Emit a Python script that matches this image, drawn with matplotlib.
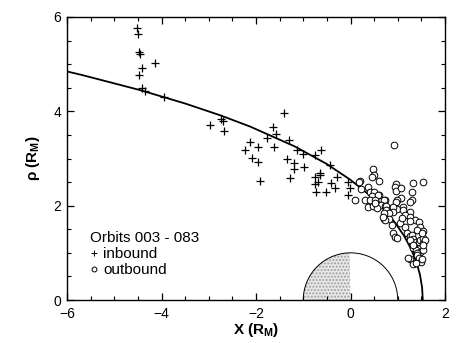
import matplotlib
matplotlib.use("Agg")
import matplotlib.pyplot as plt
import numpy as np
from matplotlib.lines import Line2D
from matplotlib.ticker import MultipleLocator

plt.rcParams['font.family'] = ['Liberation Sans', 'DejaVu Sans']
plt.rcParams['mathtext.fontset'] = 'custom'
plt.rcParams['mathtext.bf'] = 'Liberation Sans:bold'
plt.rcParams['mathtext.rm'] = 'Liberation Sans'

# Model boundary curve
curve_x = [-6.13, -5.977, -5.686, -4.449, -3.494, -2.737, -2.122, -1.186, -0.509,
           0.0, 0.393, 0.702, 0.945, 1.137, 1.284, 1.394, 1.4705, 1.515, 1.53]
curve_y = [4.877, 4.840, 4.771, 4.449, 4.164, 3.909, 3.676, 3.259, 2.888,
           2.547, 2.231, 1.929, 1.637, 1.355, 1.078, 0.805, 0.5352, 0.267, 0.0]

# Inbound crossings (+)
in_x = [-4.51, -4.49, -4.47, -4.45, -4.14, -4.41, -4.48, -4.41, -4.35, -3.95,
        -2.97, -2.75, -2.70, -2.67,
        -1.40, -1.63, -1.58, -1.77, -1.30, -2.13, -1.96, -1.62, -2.23, -1.14,
        -1.01, -0.63, -0.75, -2.08, -1.96, -1.34, -1.19, -1.20, -0.98, -1.92,
        -1.28, -0.75, -0.65, -0.69, -0.74, -0.52, -0.44, -0.42, -0.33, -0.05,
        -0.02, -0.05, -0.75, -0.28, -0.64,
        1.40, 1.37, 1.45]
in_y = [5.77, 5.65, 5.25, 5.22, 5.03, 4.91, 4.77, 4.49, 4.44, 4.31,
        3.71, 3.84, 3.80, 3.58,
        3.96, 3.66, 3.53, 3.43, 3.39, 3.34, 3.25, 3.25, 3.19, 3.17,
        3.09, 3.17, 3.07, 3.02, 2.93, 2.98, 2.91, 2.77, 2.83, 2.53,
        2.58, 2.61, 2.65, 2.51, 2.28, 2.30, 2.87, 2.49, 2.37, 2.51,
        2.37, 2.23, 2.46, 2.61, 2.69,
        1.17, 0.78, 0.92]

# Outbound crossings (o)
out_x = [0.92,
         0.47, 0.50, 0.45, 0.60, 0.20, 0.19,
         1.32, 1.54, 0.96, 0.94, 0.96, 1.30, 1.06,
         0.38, 0.41, 0.50, 0.61, 0.45, 0.59, 0.22,
         0.10, 0.31, 0.41, 0.52, 0.73, 0.70, 1.06, 0.98, 1.30, 1.25, 0.96,
         0.38, 0.48, 0.57, 0.64, 0.73, 0.56, 0.52, 0.75,
         0.85, 0.98, 1.12, 0.91, 0.89, 0.75, 1.12, 1.26, 1.15,
         0.82, 0.70, 0.71, 0.82, 0.73, 0.68, 1.26, 1.37, 1.44,
         0.87, 1.05, 1.10, 1.26, 1.15, 1.47, 1.54, 1.40,
         0.91, 0.94, 0.98, 1.19, 1.25, 1.30, 1.33, 1.39, 1.44, 1.47, 1.53, 1.54,
         1.58, 1.51, 1.26,
         1.33, 1.39, 1.47, 1.53, 1.54, 1.33, 1.40,
         1.40, 1.46, 1.49, 1.51, 1.26, 1.22, 1.33, 1.39]
out_y = [3.29,
         2.77, 2.65, 2.61, 2.53, 2.53, 2.51,
         2.49, 2.51, 2.46, 2.39, 2.32, 2.30, 2.37,
         2.39, 2.30, 2.28, 2.23, 2.20, 2.23, 2.35,
         2.12, 2.11, 2.12, 2.11, 2.11, 2.12, 2.16, 2.13, 2.11, 2.08, 2.08,
         1.98, 1.99, 2.03, 2.01, 1.99, 1.94, 2.05, 1.99,
         1.91, 1.92, 1.97, 1.98, 1.87, 1.91, 1.91, 1.87, 1.80,
         1.85, 1.84, 1.71, 1.71, 1.70, 1.77, 1.77, 1.70, 1.66,
         1.59, 1.64, 1.73, 1.68, 1.55, 1.55, 1.47, 1.48,
         1.41, 1.33, 1.31, 1.41, 1.36, 1.38, 1.29, 1.24, 1.22, 1.27, 1.20, 1.31,
         1.27, 1.41, 1.27,
         1.10, 1.06, 1.02, 1.07, 1.17, 1.17, 0.99,
         0.95, 0.88, 0.81, 0.86, 0.86, 0.88, 0.76, 0.78]

planet_radius = 1.0

fig = plt.figure(figsize=(4.61, 3.43), dpi=100)
ax = fig.add_axes([67/461, 1-300/343, 378/461, 283/343])

# planet
th = np.linspace(0, np.pi, 181)
px = planet_radius*np.cos(th)
py = planet_radius*np.sin(th)
left = px <= 0
ax.fill(np.r_[px[left], 0], np.r_[py[left], 0], facecolor='#e8e8e8',
        edgecolor='#a0a0a0', hatch='.....', linewidth=0)
ax.plot(px, py, color='black', lw=0.7)

ax.plot(curve_x, curve_y, color='black', lw=1.3, solid_capstyle='butt')

ax.plot(in_x, in_y, linestyle='none', marker='+', ms=5.5, mew=0.9, color='black')
ax.plot(out_x, out_y, linestyle='none', marker='o', ms=4.8, mew=0.7,
        mfc='white', mec='black')

ax.set_xlim(-6, 2)
ax.set_ylim(0, 6)
ax.xaxis.set_major_locator(MultipleLocator(2))
ax.xaxis.set_minor_locator(MultipleLocator(0.5))
ax.yaxis.set_major_locator(MultipleLocator(2))
ax.yaxis.set_minor_locator(MultipleLocator(0.5))
ax.tick_params(which='both', direction='in', top=True, right=True, labelsize=10)
ax.tick_params(which='major', length=5, width=0.9)
ax.tick_params(which='minor', length=3, width=0.8)
ax.tick_params(axis='x', which='major', pad=5)
ax.tick_params(axis='y', which='major', pad=4)
for s in ax.spines.values():
    s.set_linewidth(1.0)

ax.set_xlabel(r'X (R$_\mathbf{M}$)', fontsize=11, fontweight='bold', labelpad=0)
ax.set_ylabel(r'ρ (R$_\mathbf{M}$)', fontsize=11, fontweight='bold', labelpad=8)

handles = [Line2D([], [], linestyle='none', marker='+', ms=4, mew=0.7, color='black'),
           Line2D([], [], linestyle='none', marker='o', ms=3.5, mew=0.7,
                  mfc='white', mec='black')]
leg = ax.legend(handles, ['inbound', 'outbound'], title='Orbits 003 - 083',
                loc='lower left', bbox_to_anchor=(0.06, 0.08), frameon=False,
                fontsize=11, title_fontsize=11, handlelength=0.6, handletextpad=0.3,
                labelspacing=0.15, borderpad=0, borderaxespad=0)
leg._legend_box.align = 'left'

fig.savefig('out.png', dpi=100)
